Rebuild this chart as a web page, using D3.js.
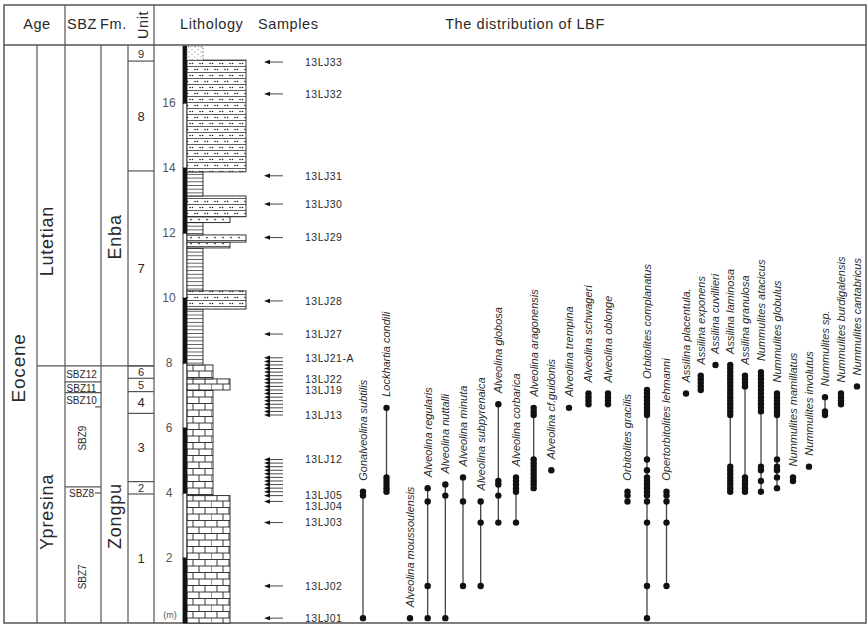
<!DOCTYPE html>
<html>
<head>
<meta charset="utf-8">
<script src="https://cdn.jsdelivr.net/npm/d3@7"></script>
<style>
  body { margin: 0; background: #fff; }
  svg text { font-family: Arial, "Liberation Sans", Helvetica, sans-serif; fill: #2a2a2a; }
</style>
</head>
<body>
<svg id="chart" width="868" height="626"></svg>
<script>
// ---------------- data (depths in metres above section base) ----------------
const depthTicks = [2, 4, 6, 8, 10, 12, 14, 16];
const columnTop = 17.75;

const stageNames = ["Lutetian", "Ypresina"];
const stageBoundary = 7.91;
const stageLabelDepth = [11.75, 3.42];
const epochName = "Eocene";
const epochLabelDepth = 7.85;

const formationNames = ["Enba", "Zongpu"];
const formationLabelDepth = [11.88, 3.29];

const unitNames = ["9", "8", "7", "6", "5", "4", "3", "2", "1"];
const unitTops = [17.75, 17.29, 13.91, 7.91, 7.53, 7.12, 6.45, 4.35, 3.97];

const sbzNames = ["SBZ12", "SBZ11", "SBZ10", "SBZ9", "SBZ8", "SBZ7"];
const sbzLabelDepth = [7.66, 7.23, 6.84, 5.69, 4.0, 1.42];
const sbzVertical = [false, false, false, true, false, true];
const sbzBoundaries = [7.42, 7.09, 4.19];
const sbzPartialBoundaries = [6.65, 4.0];

// lithology layers: base, top, rock type, texture grade (column width class)
const lithBase = [0, 3.92, 7.17, 7.51, 7.94, 9.66, 10.22, 11.54, 11.72, 11.94, 12.32, 12.50, 13.14, 13.88, 17.32];
const lithTop  = [3.92, 7.17, 7.51, 7.94, 9.66, 10.22, 11.54, 11.72, 11.94, 12.32, 12.50, 13.14, 13.88, 17.32, 17.75];
const lithType = ["limestone", "limestone", "limestone", "limestone", "shale", "sandyMarl", "shale", "dotted",
                  "dotted", "shale", "dotted", "sandyMarl", "shale", "sandyMarl", "sand"];
const lithGrade = [3, 2, 3, 2, 1, 4, 1, 3, 4, 1, 3, 4, 1, 4, 1];

// sample horizons
const sampleNames = ["13LJ01", "13LJ02", "13LJ03", "13LJ04", "13LJ05", "", "", "", "", "", "", "", "", "", "13LJ12",
                     "13LJ13", "", "", "", "", "", "", "13LJ19", "", "", "13LJ22", "", "", "", "", "", "13LJ21-A",
                     "13LJ27", "13LJ28", "13LJ29", "13LJ30", "13LJ31", "13LJ32", "13LJ33"];
const sampleDepths = [0.15, 1.14, 3.09, 3.74, 3.92, 4.04, 4.15, 4.26, 4.37, 4.48, 4.59, 4.70, 4.81, 4.92, 5.03,
                      6.40, 6.51, 6.62, 6.73, 6.84, 6.95, 7.06, 7.17, 7.28, 7.39, 7.50, 7.61, 7.72, 7.83, 7.94, 8.05, 8.16,
                      8.89, 9.91, 11.86, 12.89, 13.76, 16.28, 17.26];

// larger benthic foraminifera occurrences (sample depths)
const speciesNames = [
  "Gonalveolina subtilis", "Lockhartia condili", "Alveolina moussoulensis", "Alveolina regularis",
  "Alveolina nuttalli", "Alveolina minuta", "Alveolina subpyrenaica", "Alveolina globosa",
  "Alveolina corbarica", "Alveolina aragonensis", "Alveolina cf.guidonis", "Alveolina trempina",
  "Alveolina schwageri", "Alveolina oblonge", "Orbitolites gracilis", "Orbitolites complanatus",
  "Opertorbitolites lehmanni", "Assilina placentula.", "Assilina exponens", "Assilina cuvillieri",
  "Assilina laminosa", "Assilina granulosa", "Nummulites atacicus", "Nummulites globulus",
  "Nummulites mamillatus", "Nummulites involutus", "Nummulites sp.", "Nummulites burdigalensis",
  "Nummulites cantabricus"
];
const speciesOccurrences = [
  [0.15, 3.92, 4.04],
  [4.04, 4.15, 4.26, 4.37, 4.48, 6.62],
  [0.15],
  [0.15, 1.14, 3.74, 4.15],
  [0.15, 3.92, 4.26],
  [1.14, 3.74, 4.48],
  [1.14, 3.09, 3.74],
  [3.09, 3.92, 4.26, 4.37, 6.73],
  [3.09, 4.04, 4.15, 4.26, 4.37, 4.48],
  [4.15, 4.26, 4.37, 4.48, 4.59, 4.70, 4.81, 4.92, 5.03, 6.40, 6.51, 6.62],
  [4.70],
  [6.62],
  [6.73, 6.84, 6.95, 7.06],
  [6.73, 6.84, 6.95, 7.06],
  [3.74, 3.92, 4.04],
  [0.15, 1.14, 3.09, 3.74, 3.92, 4.04, 4.15, 4.26, 4.37, 4.48, 4.70, 5.03, 6.40, 6.51, 6.62, 6.73, 6.84, 6.95, 7.06, 7.17],
  [1.14, 3.09, 3.74, 3.92, 4.04],
  [7.06],
  [7.17, 7.28, 7.39, 7.50, 7.61],
  [7.94],
  [4.04, 4.15, 4.26, 4.37, 4.48, 4.59, 4.70, 4.81, 6.40, 6.51, 6.62, 6.73, 6.84, 6.95, 7.06, 7.17, 7.28, 7.39, 7.50, 7.61, 7.72, 7.83, 7.94],
  [4.04, 4.15, 4.26, 4.37, 4.48, 7.28, 7.39, 7.50, 7.61],
  [4.04, 4.37, 4.70, 4.81, 6.51, 6.62, 6.73, 6.84, 6.95, 7.06, 7.17, 7.28, 7.39, 7.50, 7.61, 7.72],
  [4.15, 4.48, 4.70, 4.81, 5.03, 6.40, 6.51, 6.62, 6.73, 6.84, 6.95, 7.06],
  [4.37, 4.48],
  [4.81],
  [6.40, 6.51, 6.95],
  [6.73, 6.84, 6.95, 7.06],
  [7.28]
];

// ---------------- layout ----------------
const frame = { x0: 4, x1: 866, y0: 5, yHead: 45, y1: 623 };
const colEdges = { epoch: 4, stage: 37, sbz: 65, fm: 101, unit: 128, lith: 154 };
const RULE = "#555", INK = "#222";

const svg = d3.select("#chart");
const y = d3.scaleLinear().domain([0, 16]).range([623, 103]);
const speciesX = d3.scaleLinear().domain([0, 2, 11, 17, 21, 28]).range([363, 410, 569, 686, 745, 857]);
const lithWidth = d3.scaleOrdinal().domain([1, 2, 3, 4]).range([16, 26, 43, 59]);
const lithX = 187, barX = 183;

// ---------------- lithology fill patterns ----------------
const defs = svg.append("defs");
function pattern(id, w, h) {
  return defs.append("pattern").attr("id", id).attr("patternUnits", "userSpaceOnUse")
    .attr("x", lithX).attr("y", 0).attr("width", w).attr("height", h);
}
const pShale = pattern("shale", 8, 3.7);
pShale.append("rect").attr("width", 8).attr("height", 3.7).attr("fill", "#fff");
pShale.append("line").attr("x1", 0).attr("x2", 8).attr("y1", 0.5).attr("y2", 0.5).attr("stroke", "#333").attr("stroke-width", 0.8);

const pLime = pattern("limestone", 24, 13);
pLime.append("rect").attr("width", 24).attr("height", 13).attr("fill", "#fff");
pLime.append("path").attr("fill", "none").attr("stroke", INK).attr("stroke-width", 0.9)
  .attr("d", "M0,0.5H24M0,7H24M6,0.5V7M18,0.5V7M0,7V13M12,7V13");

const pMarl = pattern("sandyMarl", 20, 12);
pMarl.append("rect").attr("width", 20).attr("height", 12).attr("fill", "#fff");
pMarl.append("path").attr("fill", "none").attr("stroke", "#333").attr("stroke-width", 0.8).attr("d", "M0,0.5H20M0,6.5H20");
[[3, 3.5], [5.5, 3.5], [13, 3.5], [15.5, 3.5], [8, 9.5], [10.5, 9.5], [18, 9.5], [0.5, 9.5]].forEach(([cx, cy]) =>
  pMarl.append("circle").attr("cx", cx).attr("cy", cy).attr("r", 0.8).attr("fill", "#222"));

const pDot = pattern("dotted", 8, 6);
pDot.append("rect").attr("width", 8).attr("height", 6).attr("fill", "#fff");
pDot.append("line").attr("x1", 0).attr("x2", 8).attr("y1", 0.5).attr("y2", 0.5).attr("stroke", "#333").attr("stroke-width", 0.8);
pDot.append("circle").attr("cx", 4).attr("cy", 3.5).attr("r", 0.85).attr("fill", "#222");

const pSand = pattern("sand", 6, 5);
pSand.append("rect").attr("width", 6).attr("height", 5).attr("fill", "#fff");
pSand.append("circle").attr("cx", 2).attr("cy", 2).attr("r", 0.6).attr("fill", "#777");
pSand.append("circle").attr("cx", 5).attr("cy", 4.5).attr("r", 0.6).attr("fill", "#777");

// ---------------- frame and table rules ----------------
const rules = svg.append("g").attr("stroke", RULE).attr("stroke-width", 1.2).attr("fill", "none");
rules.append("rect").attr("x", frame.x0).attr("y", frame.y0)
  .attr("width", frame.x1 - frame.x0).attr("height", frame.y1 - frame.y0).attr("stroke-width", 1.5);
rules.append("line").attr("x1", frame.x0).attr("x2", frame.x1).attr("y1", frame.yHead).attr("y2", frame.yHead).attr("stroke-width", 1.5);
[colEdges.sbz, colEdges.lith].forEach(x =>
  rules.append("line").attr("x1", x).attr("x2", x).attr("y1", frame.y0).attr("y2", frame.yHead));
[colEdges.stage, colEdges.sbz, colEdges.fm, colEdges.unit, colEdges.lith].forEach(x =>
  rules.append("line").attr("x1", x).attr("x2", x).attr("y1", frame.yHead).attr("y2", frame.y1));
rules.append("line").attr("x1", colEdges.stage).attr("x2", colEdges.lith)
  .attr("y1", y(stageBoundary)).attr("y2", y(stageBoundary));
unitTops.slice(1).forEach(d =>
  rules.append("line").attr("x1", colEdges.unit).attr("x2", colEdges.lith).attr("y1", y(d)).attr("y2", y(d)));
sbzBoundaries.forEach(d =>
  rules.append("line").attr("x1", colEdges.sbz).attr("x2", colEdges.fm).attr("y1", y(d)).attr("y2", y(d)));
sbzPartialBoundaries.forEach(d =>
  rules.append("line").attr("x1", colEdges.fm - 6).attr("x2", colEdges.fm).attr("y1", y(d)).attr("y2", y(d)));

// ---------------- header ----------------
const head = svg.append("g").attr("font-size", 14.5).attr("letter-spacing", 0.6);
const hy = 29;
head.append("text").attr("x", 37).attr("y", hy).attr("text-anchor", "middle").text("Age");
head.append("text").attr("x", 82).attr("y", hy).attr("text-anchor", "middle").text("SBZ");
head.append("text").attr("x", 113.5).attr("y", hy).attr("text-anchor", "middle").text("Fm.");
head.append("text").attr("transform", `translate(143,25) rotate(-90)`).attr("dy", "0.35em")
  .attr("text-anchor", "middle").text("Unit");
head.append("text").attr("x", 180).attr("y", hy).text("Lithology");
head.append("text").attr("x", 258).attr("y", hy).text("Samples");
head.append("text").attr("x", 525).attr("y", hy).attr("text-anchor", "middle").text("The distribution  of  LBF");

// ---------------- stratigraphic columns ----------------
function vText(g, x, yy, txt, size) {
  return g.append("text").attr("transform", `translate(${x},${yy}) rotate(-90)`)
    .attr("dy", "0.35em").attr("text-anchor", "middle").attr("font-size", size).text(txt);
}
const strat = svg.append("g").attr("letter-spacing", 0.8);
vText(strat, 18, y(epochLabelDepth), epochName, 19);
stageNames.forEach((s, i) => vText(strat, 47, y(stageLabelDepth[i]), s, 18));
formationNames.forEach((s, i) => vText(strat, 115, y(formationLabelDepth[i]), s, 18));

const unitG = svg.append("g").attr("text-anchor", "middle");
unitNames.forEach((u, i) => {
  const top = unitTops[i], base = i + 1 < unitTops.length ? unitTops[i + 1] : 0;
  const h = y(base) - y(top);
  unitG.append("text").attr("x", 141).attr("y", (y(top) + y(base)) / 2).attr("dy", "0.36em")
    .attr("font-size", h < 16 ? 11 : 13).text(u);
});

const sbzG = svg.append("g").attr("font-size", 10);
sbzNames.forEach((s, i) => {
  if (sbzVertical[i]) vText(sbzG, 82, y(sbzLabelDepth[i]), s, 10);
  else sbzG.append("text").attr("x", 81.5).attr("y", y(sbzLabelDepth[i])).attr("dy", "0.36em")
    .attr("text-anchor", "middle").text(s);
});

// ---------------- depth scale bar and ticks ----------------
const barEdges = [0].concat(depthTicks, [columnTop]);
const bar = svg.append("g");
barEdges.slice(0, -1).forEach((d, i) => {
  bar.append("rect").attr("x", barX).attr("y", y(barEdges[i + 1])).attr("width", 4)
    .attr("height", y(d) - y(barEdges[i + 1]))
    .attr("fill", i % 2 === 0 ? "#111" : "#fff").attr("stroke", "#111").attr("stroke-width", 0.8);
});
const tickG = svg.append("g").attr("font-size", 12).attr("text-anchor", "middle");
depthTicks.forEach(d => tickG.append("text").attr("x", 169).attr("y", y(d)).attr("dy", "0.36em").style("fill", "#555").text(d));
tickG.append("text").attr("x", 170).attr("y", y(0) - 5).attr("font-size", 9).style("fill", "#555").text("(m)");

// ---------------- lithology column ----------------
const lith = svg.append("g");
lithType.forEach((t, i) => {
  const r = lith.append("rect").attr("x", lithX).attr("y", y(lithTop[i]))
    .attr("width", lithWidth(lithGrade[i])).attr("height", y(lithBase[i]) - y(lithTop[i]))
    .attr("fill", `url(#${t})`).attr("stroke", t === "sand" ? "#777" : INK).attr("stroke-width", 0.9);
  if (t === "sand") r.attr("stroke-dasharray", "2,1.5");
});

// ---------------- sample arrows and labels ----------------
const samp = svg.append("g");
sampleDepths.forEach(d => {
  const yy = y(d);
  samp.append("line").attr("x1", 268).attr("x2", 283).attr("y1", yy).attr("y2", yy)
    .attr("stroke", "#333").attr("stroke-width", 0.9);
  samp.append("path").attr("d", `M264,${yy}L270,${yy - 2.2}L270,${yy + 2.2}Z`).attr("fill", "#111");
});
// labels placed from the top down so close neighbours stack below one another
const labelled = sampleNames.map((n, i) => ({ n, d: sampleDepths[i] })).filter(s => s.n)
  .sort((a, b) => b.d - a.d);
let prevY = -Infinity;
labelled.forEach(s => {
  let ly = y(s.d);
  if (ly < prevY + 11) ly = prevY + 11;
  prevY = ly;
  samp.append("text").attr("x", 305).attr("y", ly).attr("dy", "0.36em")
    .attr("font-size", 10.5).attr("letter-spacing", 0.5).text(s.n);
});

// ---------------- LBF range chart ----------------
const lbf = svg.append("g");
speciesNames.forEach((name, i) => {
  const x = speciesX(i);
  const occ = speciesOccurrences[i];
  const [lo, hi] = d3.extent(occ);
  if (hi > lo) lbf.append("line").attr("x1", x).attr("x2", x).attr("y1", y(hi)).attr("y2", y(lo))
    .attr("stroke", "#444").attr("stroke-width", 1.3);
  occ.forEach(d => lbf.append("circle").attr("cx", x).attr("cy", y(d)).attr("r", 3.2).attr("fill", "#111"));
  lbf.append("text").attr("transform", `translate(${x},${y(hi) - 11}) rotate(-90)`)
    .attr("dy", "0.35em").attr("font-size", 11).attr("font-style", "italic").text(name);
});
</script>
</body>
</html>
